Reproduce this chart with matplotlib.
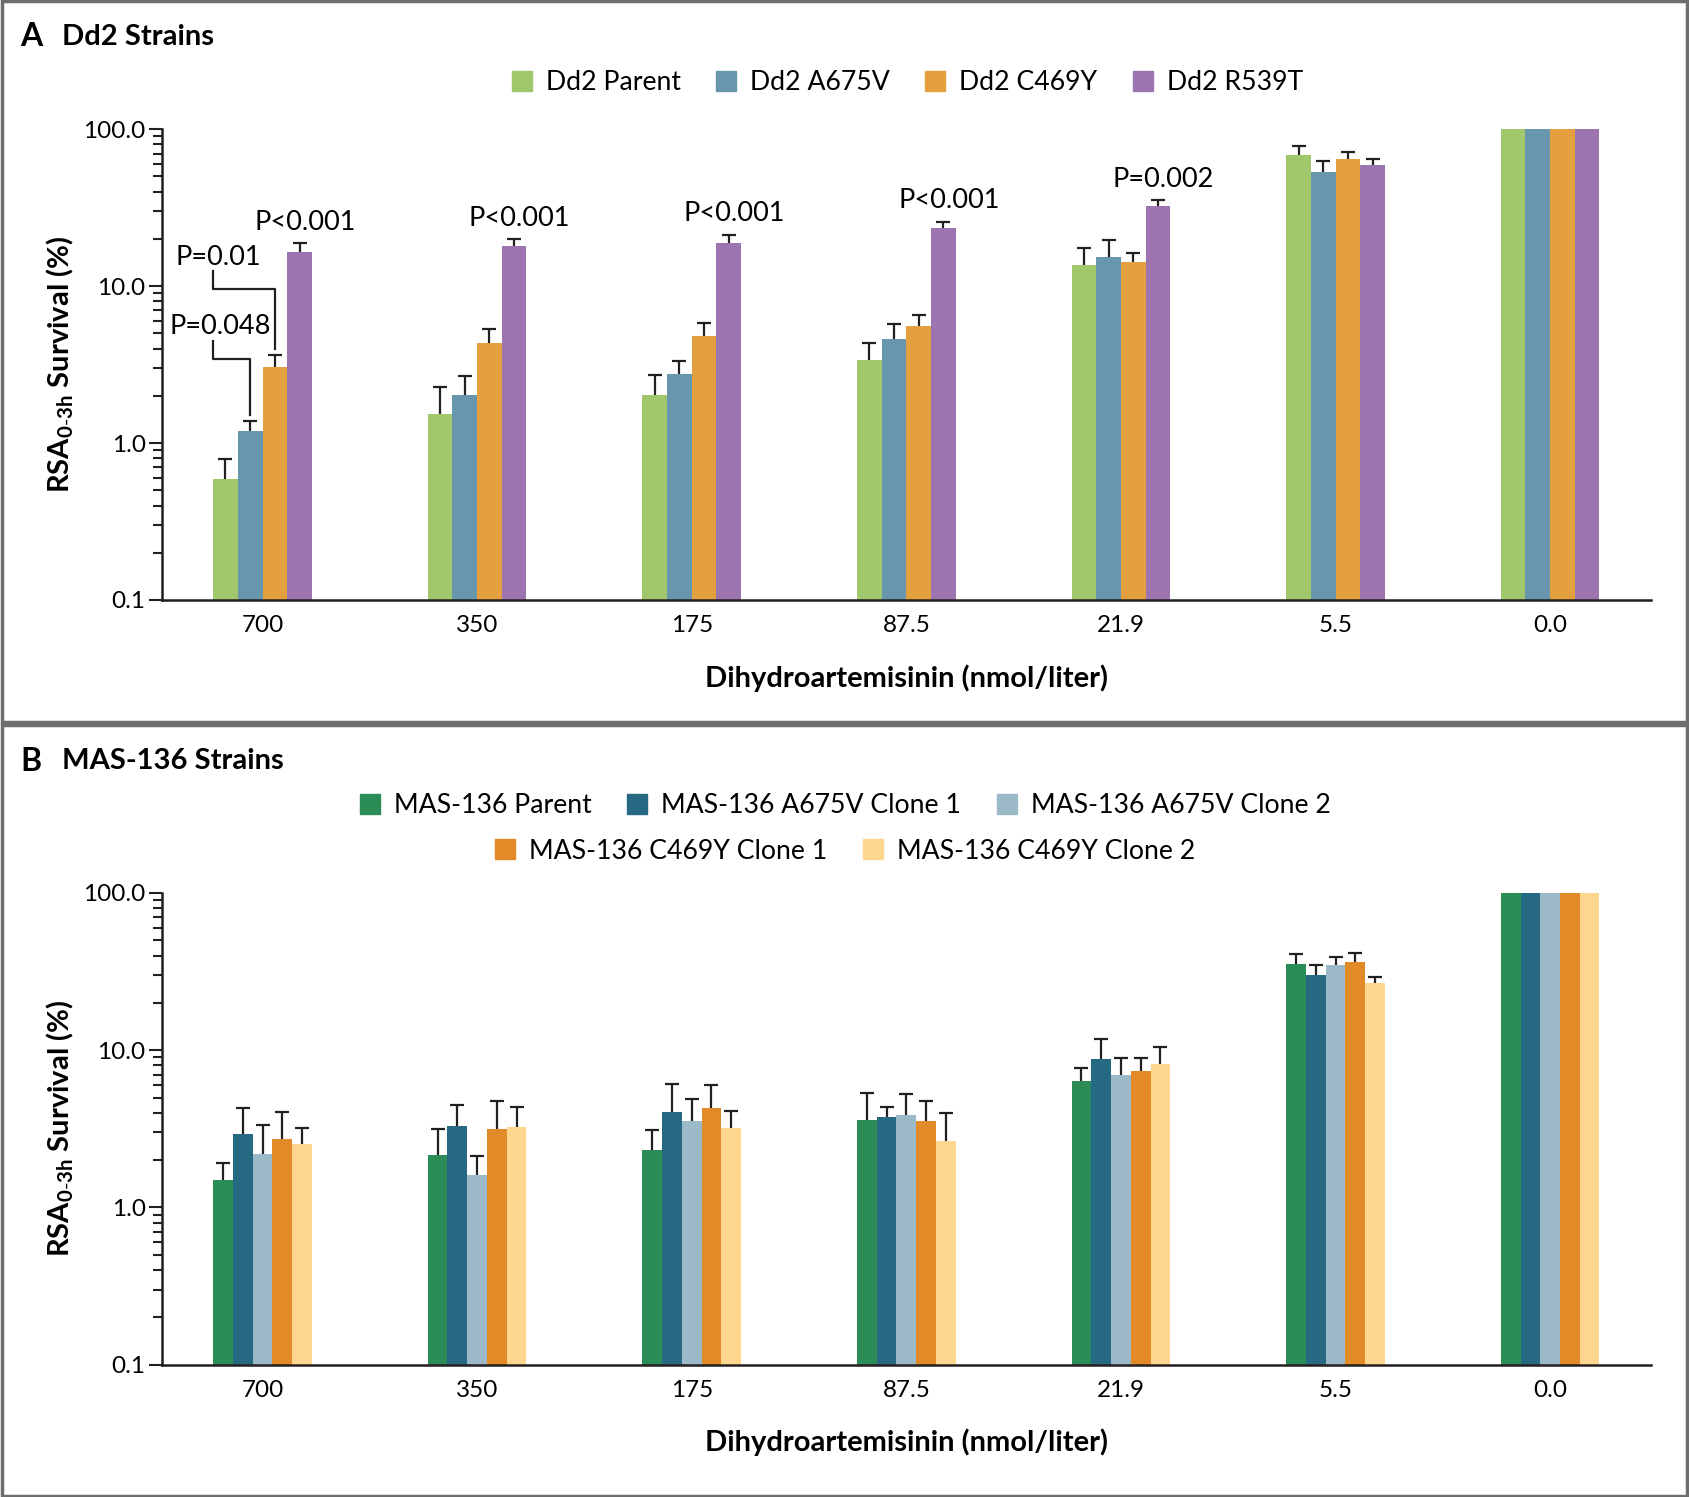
import numpy as np
import matplotlib
matplotlib.use('Agg')
import matplotlib.pyplot as plt
from matplotlib.lines import Line2D
from matplotlib.patches import Rectangle
from matplotlib.ticker import FixedLocator, LogLocator, NullFormatter

plt.rcParams['font.family'] = ['Lato', 'DejaVu Sans']
plt.rcParams['mathtext.fontset'] = 'custom'
plt.rcParams['mathtext.rm'] = 'Lato'
plt.rcParams['mathtext.bf'] = 'Lato:bold'

doses = ['700', '350', '175', '87.5', '21.9', '5.5', '0.0']

# panel A: Dd2 strains (bar value, top of error bar)
dd2_names = ['Dd2 Parent', 'Dd2 A675V', 'Dd2 C469Y', 'Dd2 R539T']
dd2_parent = [0.59, 1.53, 2.03, 3.37, 13.7, 68.5, 100]
dd2_parent_hi = [0.79, 2.27, 2.70, 4.33, 17.6, 78.6, np.nan]
dd2_a675v = [1.19, 2.03, 2.74, 4.62, 15.3, 53.2, 100]
dd2_a675v_hi = [1.39, 2.66, 3.32, 5.76, 19.7, 63.0, np.nan]
dd2_c469y = [3.06, 4.33, 4.84, 5.58, 14.2, 64.3, 100]
dd2_c469y_hi = [3.64, 5.32, 5.85, 6.53, 16.3, 71.5, np.nan]
dd2_r539t = [16.6, 17.9, 18.8, 23.4, 32.6, 59.4, 100]
dd2_r539t_hi = [18.8, 20.0, 21.3, 25.7, 35.3, 64.3, np.nan]
dd2_colors = ['#a0c76c', '#6896ad', '#e49f3e', '#9c74b0']
r539t_pvals = ['P<0.001', 'P<0.001', 'P<0.001', 'P<0.001', 'P=0.002']

# panel B: MAS-136 strains
mas_names = ['MAS-136 Parent', 'MAS-136 A675V Clone 1', 'MAS-136 A675V Clone 2',
             'MAS-136 C469Y Clone 1', 'MAS-136 C469Y Clone 2']
mas_parent = [1.49, 2.14, 2.31, 3.59, 6.33, 35.3, 100]
mas_parent_hi = [1.91, 3.15, 3.11, 5.32, 7.65, 40.7, np.nan]
mas_a675v_1 = [2.93, 3.28, 4.07, 3.76, 8.81, 30.1, 100]
mas_a675v_1_hi = [4.27, 4.51, 6.13, 4.33, 11.7, 34.8, np.nan]
mas_a675v_2 = [2.20, 1.60, 3.53, 3.88, 6.95, 34.8, 100]
mas_a675v_2_hi = [3.33, 2.12, 4.92, 5.24, 8.96, 39.4, np.nan]
mas_c469y_1 = [2.74, 3.14, 4.27, 3.53, 7.41, 36.5, 100]
mas_c469y_1_hi = [4.05, 4.73, 6.04, 4.77, 8.96, 41.3, np.nan]
mas_c469y_2 = [2.55, 3.27, 3.21, 2.66, 8.15, 26.6, 100]
mas_c469y_2_hi = [3.22, 4.37, 4.13, 4.00, 10.5, 29.2, np.nan]
mas_colors = ['#2c8c58', '#256a82', '#9bb9c7', '#e38a28', '#fed68e']

INK = '#231f20'
ylab = r'RSA$_{\mathbf{0\text{-}3h}}$ Survival (%)'

fig = plt.figure(figsize=(16.89, 14.97), dpi=100)
axA = fig.add_axes([0.0957, 0.5992, 0.8818, 0.3145])
axB = fig.add_axes([0.0957, 0.0884, 0.8818, 0.3151])


def draw_panel(ax, values, uppers, colors, width):
    x = np.arange(len(doses))
    n = len(values)
    ax.set_yscale('log')
    xs_all = []
    for i, (v, hi, c) in enumerate(zip(values, uppers, colors)):
        xs = x + (i - (n - 1) / 2) * width
        ax.bar(xs, v, width=width, color=c, edgecolor='none', zorder=2)
        hi = np.array(hi, dtype=float)
        ok = ~np.isnan(hi)
        ax.vlines(xs[ok], np.array(v)[ok], hi[ok], color=INK, lw=1.6, zorder=3)
        ax.plot(xs[ok], hi[ok], ls='', marker='_', ms=10, mew=1.6,
                color=INK, zorder=3)
        xs_all.append(xs)
    ax.set_ylim(0.1, 100)
    ax.set_xlim(-0.47, 6.47)
    ax.yaxis.set_major_locator(FixedLocator([0.1, 1, 10, 100]))
    ax.set_yticklabels(['0.1', '1.0', '10.0', '100.0'])
    ax.yaxis.set_minor_locator(LogLocator(base=10, subs=np.arange(2, 10)))
    ax.yaxis.set_minor_formatter(NullFormatter())
    ax.set_xticks(x)
    ax.set_xticklabels(doses)
    for s in ['top', 'right']:
        ax.spines[s].set_visible(False)
    for s in ['left', 'bottom']:
        ax.spines[s].set_linewidth(1.8)
        ax.spines[s].set_color(INK)
    ax.tick_params(axis='y', which='major', length=9.5, width=1.5,
                   color=INK, labelsize=17.5, pad=2)
    ax.tick_params(axis='y', which='minor', length=6.5, width=1.5, color=INK)
    ax.tick_params(axis='x', length=0, labelsize=17.5, pad=11)
    ax.set_xlabel('Dihydroartemisinin (nmol/liter)', fontsize=21,
                  fontweight='bold', labelpad=20)
    ax.set_ylabel(ylab, fontsize=21, fontweight='bold', labelpad=5)
    return xs_all


xsA = draw_panel(axA, [dd2_parent, dd2_a675v, dd2_c469y, dd2_r539t],
                 [dd2_parent_hi, dd2_a675v_hi, dd2_c469y_hi, dd2_r539t_hi],
                 dd2_colors, 0.115)
xsB = draw_panel(axB, [mas_parent, mas_a675v_1, mas_a675v_2, mas_c469y_1, mas_c469y_2],
                 [mas_parent_hi, mas_a675v_1_hi, mas_a675v_2_hi, mas_c469y_1_hi, mas_c469y_2_hi],
                 mas_colors, 0.092)

# P values above the R539T bars
for k, p in enumerate(r539t_pvals):
    axA.annotate(p, (xsA[3][k], dd2_r539t_hi[k]), xytext=(4, 6),
                 textcoords='offset points', ha='center', va='bottom',
                 fontsize=19.5)

# brackets at 700 nmol/liter
xl = -0.23
for j, top, mid, label, ty in [(2, 12.4, 9.55, 'P=0.01', 13.6),
                               (1, 4.47, 3.41, 'P=0.048', 4.96)]:
    xr = xsA[j][0]
    hi = [dd2_a675v_hi, dd2_c469y_hi][j - 1][0] * 1.09
    axA.plot([xl, xl, xr, xr], [top, mid, mid, hi], color=INK, lw=1.6,
             zorder=3)
    axA.text(-0.435 if j == 1 else -0.405, ty, label, ha='left',
             va='baseline', fontsize=19.5)

# legends
def sq(c):
    return Line2D([], [], ls='', marker='s', ms=15, color=c)

legkw = dict(frameon=False, fontsize=19.2, handlelength=0.8,
             handletextpad=0.5, columnspacing=1.3, loc='center',
             borderaxespad=0)
fig.legend([sq(c) for c in dd2_colors], dd2_names, ncol=4,
           bbox_to_anchor=(0.537, 0.9446), **legkw)
fig.legend([sq(c) for c in mas_colors[:3]], mas_names[:3], ncol=3,
           bbox_to_anchor=(0.5003, 0.4616), **legkw)
fig.legend([sq(c) for c in mas_colors[3:]], mas_names[3:], ncol=2,
           bbox_to_anchor=(0.5003, 0.4315), **legkw)

# panel titles
fig.text(0.012, 0.9755, 'A', fontsize=23, fontweight='bold', va='center')
fig.text(0.0367, 0.9755, 'Dd2 Strains', fontsize=21, fontweight='bold',
         va='center')
fig.text(0.012, 0.4915, 'B', fontsize=23, fontweight='bold', va='center')
fig.text(0.0367, 0.4915, 'MAS-136 Strains', fontsize=21, fontweight='bold',
         va='center')

# panel frames
for y0, h in [(0.5164, 0.4836), (0.0, 0.5164)]:
    fig.add_artist(Rectangle((0.001, y0 + 0.001), 0.998, h - 0.002,
                             transform=fig.transFigure, fill=False,
                             edgecolor='#6d6e70', lw=2.5))

fig.savefig('out.png', dpi=100, facecolor='white')
